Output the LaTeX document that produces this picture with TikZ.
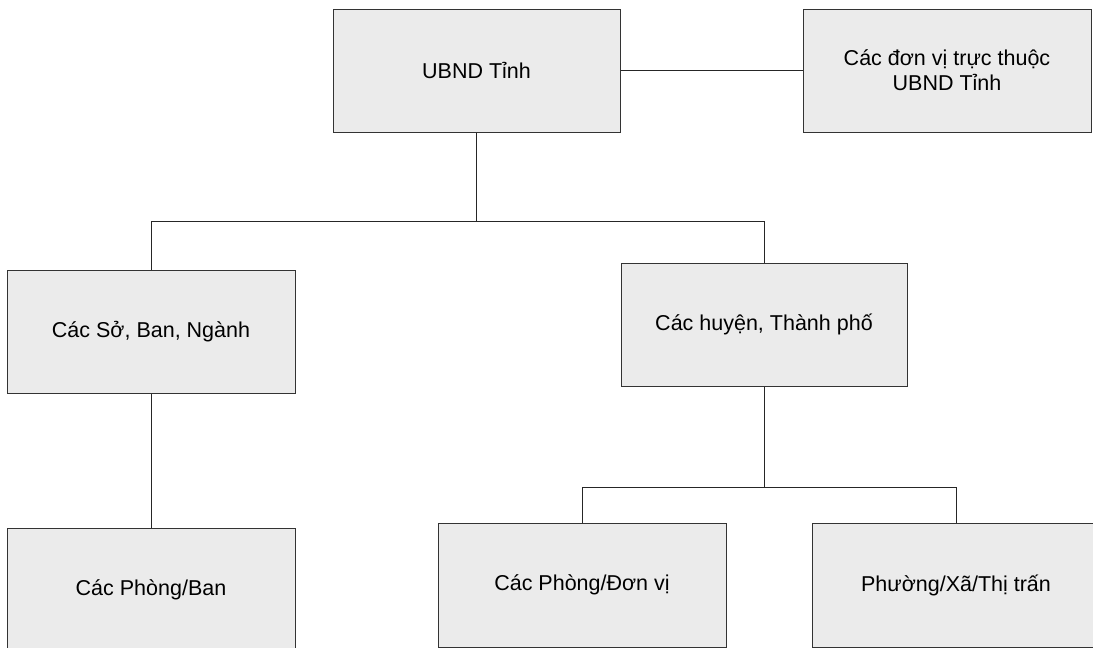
\documentclass[tikz,border=0pt]{standalone}
\usepackage{fontspec}
\setmainfont{Liberation Sans}
\begin{document}
\begin{tikzpicture}[x=1pt,y=-1pt,
  orgbox/.style={draw=black!80, fill=black!8, line width=1pt, rectangle,
    minimum width=287pt, minimum height=123pt, inner sep=0pt, align=center,
    font=\fontsize{21.5}{25}\selectfont},
  link/.style={draw=black!85, line width=1pt}]
\useasboundingbox (0,0) rectangle (1093,648);
\clip (0,0) rectangle (1093,648);

% boxes
\node[orgbox] (ubnd)   at (476.5,70.5) {UBND Tỉnh};
\node[orgbox, minimum width=288pt] (unit) at (947,70.5) {Các đơn vị trực thuộc\\UBND Tỉnh};
\node[orgbox, minimum width=288pt] (so)   at (151,331.5) {Các Sở, Ban, Ngành};
\node[orgbox, minimum width=286pt] (huyen) at (764,324.5) {Các huyện, Thành phố};
\node[orgbox, minimum width=288pt, minimum height=124pt] (pban) at (151,590) {Các Phòng/Ban};
\node[orgbox, minimum width=288pt, minimum height=124pt] (pdv)  at (582,585) {Các Phòng/Đơn vị};
\node[orgbox, minimum width=288pt, minimum height=124pt] (phuong) at (956,585) {Phường/Xã/Thị trấn};

% bus points
\coordinate (busA) at (476.5,221);
\coordinate (busB) at (764,487);

% connectors
\draw[link] (ubnd.east) -- (unit.west);
\draw[link] (ubnd.south) -- (busA);
\draw[link] (busA) -| (so.north);
\draw[link] (busA) -| (huyen.north);
\draw[link] (so.south) -- (pban.north);
\draw[link] (huyen.south) -- (busB);
\draw[link] (busB) -| (pdv.north);
\draw[link] (busB) -| (phuong.north);
\end{tikzpicture}
\end{document}
